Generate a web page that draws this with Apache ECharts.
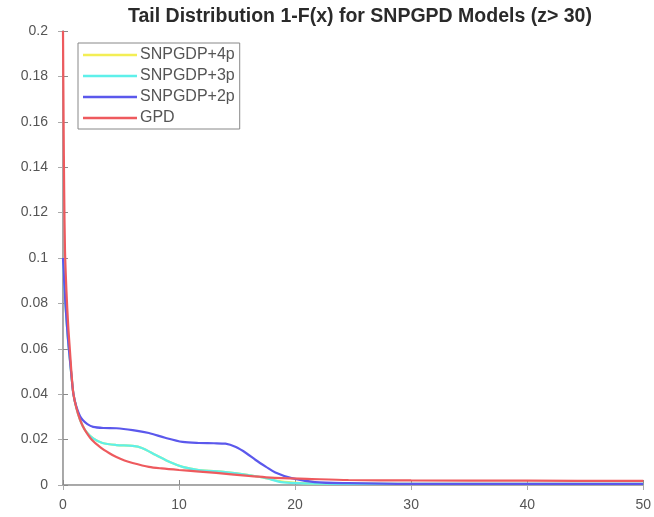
<!DOCTYPE html>
<html>
<head>
<meta charset="utf-8">
<script src="https://cdn.jsdelivr.net/npm/echarts@6/dist/echarts.min.js"></script>
<style>html,body{margin:0;padding:0;background:#fff}#c{width:654px;height:517px}</style>
</head>
<body>
<div id="c"></div>
<script>
const titleText = 'Tail Distribution 1-F(x) for SNPGPD Models (z> 30)';
const seriesNames = ['SNPGDP+4p', 'SNPGDP+3p', 'SNPGDP+2p', 'GPD'];
const xTicks = [0, 10, 20, 30, 40, 50];
const yTicks = [0, 0.02, 0.04, 0.06, 0.08, 0.1, 0.12, 0.14, 0.16, 0.18, 0.2];

const p4X = [0, 0.15, 0.3, 0.45, 0.6, 0.75, 0.9, 1.15, 1.45, 1.7, 2.0, 2.6, 3.4, 4.6, 6.0, 6.8, 8.0, 9.2, 10.3, 11.7, 14, 16, 17.5, 18.8, 20.3, 22, 25, 30, 40, 50];
const p4Y = [0.1, 0.085, 0.073, 0.063, 0.055, 0.047, 0.04, 0.034, 0.029, 0.026, 0.0235, 0.0205, 0.0185, 0.0176, 0.0172, 0.0163, 0.0132, 0.0101, 0.008, 0.0066, 0.0057, 0.0044, 0.003, 0.0016, 0.0009, 0.0006, 0.0005, 0.0005, 0.0005, 0.0005];

const p3X = [0, 0.15, 0.3, 0.45, 0.6, 0.75, 0.9, 1.15, 1.45, 1.7, 2.0, 2.6, 3.4, 4.6, 6.0, 6.8, 8.0, 9.2, 10.3, 11.7, 14, 16, 17.5, 18.8, 20.3, 22, 25, 30, 40, 50];
const p3Y = [0.1, 0.085, 0.073, 0.063, 0.055, 0.047, 0.04, 0.034, 0.029, 0.026, 0.0235, 0.0205, 0.0185, 0.0176, 0.0172, 0.0163, 0.0132, 0.0101, 0.008, 0.0066, 0.0057, 0.0044, 0.003, 0.0013, 0.0008, 0.0006, 0.0005, 0.0005, 0.0005, 0.0005];

const p2X = [0, 0.15, 0.3, 0.45, 0.6, 0.75, 0.9, 1.15, 1.45, 1.7, 2.1, 2.6, 3.5, 4.6, 6.0, 7.4, 8.8, 10.3, 11.7, 13, 14, 14.9, 15.8, 16.6, 17.5, 18.3, 19.7, 21.7, 24.6, 30, 40, 50];
const p2Y = [0.1, 0.085, 0.073, 0.063, 0.055, 0.047, 0.04, 0.0345, 0.0305, 0.0286, 0.0268, 0.0256, 0.0251, 0.025, 0.0242, 0.0229, 0.0208, 0.019, 0.0185, 0.0184, 0.0182, 0.0167, 0.014, 0.011, 0.008, 0.0055, 0.003, 0.0013, 0.0008, 0.0005, 0.0005, 0.0005];

const gpdX = [0, 0.05, 0.1, 0.17, 0.3, 0.45, 0.6, 0.75, 0.9, 1.15, 1.45, 1.7, 2.0, 2.5, 3.2, 4.0, 4.6, 5.3, 6.0, 7.4, 8.5, 10, 11.5, 13.2, 14.5, 16, 17.5, 18.9, 21, 24.6, 30, 40, 50];
const gpdY = [0.2, 0.16, 0.13, 0.1035, 0.085, 0.07, 0.059, 0.048, 0.04, 0.034, 0.029, 0.026, 0.0233, 0.0198, 0.0167, 0.014, 0.0123, 0.0108, 0.0097, 0.008, 0.0073, 0.0066, 0.006, 0.0053, 0.0047, 0.004, 0.0034, 0.003, 0.0027, 0.0022, 0.002, 0.0019, 0.0018];

const colors = ['#f3ee55', '#5ef0ea', '#5b58ec', '#ee5a5e'];
const xs = [p4X, p3X, p2X, gpdX];
const ys = [p4Y, p3Y, p2Y, gpdY];

const chart = echarts.init(document.getElementById('c'), null, {renderer: 'canvas'});
const axisGray = '#8a8a8a';
const labelGray = '#555';
const font = 'Liberation Sans, Arial, sans-serif';

const series = seriesNames.map((name, i) => ({
  name: name,
  type: 'line',
  data: xs[i].map((x, j) => [x, ys[i][j]]),
  smooth: 0.3,
  symbol: 'none',
  lineStyle: {color: colors[i], width: 2.2},
  itemStyle: {color: colors[i]},
  z: 2 + i,
  clip: true
}));

chart.setOption({
  animation: false,
  backgroundColor: '#fff',
  title: {
    text: titleText,
    left: 355, top: 2, textAlign: 'center',
    textStyle: {fontFamily: font, fontSize: 19.5, fontWeight: 'bold', color: '#2a2a2a'}
  },
  grid: {left: 63, right: 7, top: 31, bottom: 32, show: false},
  legend: {
    orient: 'vertical',
    left: 78, top: 43,
    data: seriesNames,
    icon: 'rect',
    itemWidth: 54, itemHeight: 2.5, itemGap: 5,
    padding: [4, 5, 3, 5],
    borderColor: '#888', borderWidth: 1,
    backgroundColor: '#fff',
    textStyle: {fontFamily: font, fontSize: 16, color: '#555', lineHeight: 16, padding: [0, 0, 0, -2]}
  },
  xAxis: [{
    type: 'value', min: 0, max: 50, interval: 10,
    axisLine: {show: true, lineStyle: {color: axisGray, width: 1.5}},
    axisTick: {show: true, inside: true, length: 5, lineStyle: {color: axisGray}},
    axisLabel: {fontFamily: font, fontSize: 14, color: labelGray, margin: 13,
      formatter: v => xTicks.includes(v) ? String(v) : ''},
    splitLine: {show: false}
  }, {
    type: 'value', min: 0, max: 50, interval: 10, position: 'top',
    axisLine: {show: true, lineStyle: {color: '#aaa', width: 1}},
    axisTick: {show: true, inside: true, length: 5, lineStyle: {color: '#aaa'}},
    axisLabel: {show: false}, splitLine: {show: false}
  }],
  yAxis: [{
    type: 'value', min: 0, max: 0.2, interval: 0.02,
    axisLine: {show: true, lineStyle: {color: axisGray, width: 1.5}},
    axisTick: {show: true, inside: true, length: 5, lineStyle: {color: axisGray}},
    axisLabel: {fontFamily: font, fontSize: 14, color: labelGray, margin: 15,
      formatter: v => { const t = yTicks.find(k => Math.abs(k - v) < 1e-9); return t === undefined ? '' : String(t); }},
    splitLine: {show: false}
  }, {
    type: 'value', min: 0, max: 0.2, interval: 0.02, position: 'right',
    axisLine: {show: true, lineStyle: {color: '#aaa', width: 1}},
    axisTick: {show: true, inside: true, length: 5, lineStyle: {color: '#aaa'}},
    axisLabel: {show: false}, splitLine: {show: false}
  }],
  series: series
});
</script>
</body>
</html>
